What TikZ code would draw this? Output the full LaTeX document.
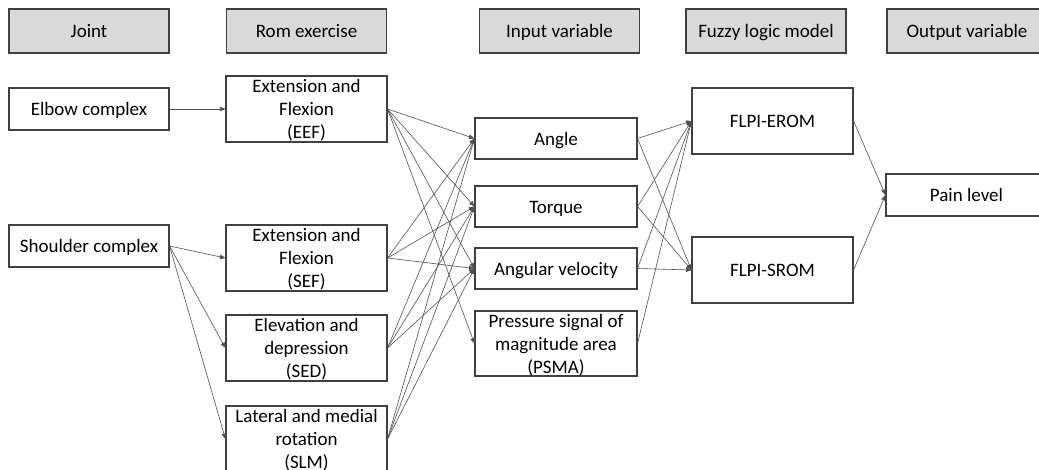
\documentclass[tikz,border=0pt]{standalone}
\usepackage{fontspec}
\setmainfont{Carlito}
\usetikzlibrary{arrows.meta}
\definecolor{boxline}{HTML}{404040}
\definecolor{headfill}{HTML}{D9D9D9}
\definecolor{linkgray}{HTML}{505050}
\begin{document}
\begin{tikzpicture}[x=1pt,y=-1pt,
  box/.style={draw=boxline, line width=1.1pt, fill=white, inner sep=0pt,
    align=center, text=black, text depth=0pt, font=\fontsize{19}{23}\selectfont},
  oneline/.style={box, text height=14pt},
  multi/.style={box, text depth=-2.5pt},
  head/.style={oneline, fill=headfill, minimum width=160pt, minimum height=44pt},
  small/.style={oneline, minimum width=160pt, minimum height=42pt},
  tall/.style={multi, minimum width=161pt, minimum height=66pt},
  model/.style={oneline, minimum width=161pt, minimum height=66pt},
  inbox/.style={oneline, minimum width=162pt, minimum height=41pt},
  link/.style={draw=linkgray, line width=0.6pt, -{Triangle[length=5.5pt,width=4.5pt]}}
]
\clip (0,0) rectangle (1039,470);
\fill[white] (0,0) rectangle (1039,470);

% column headers
\node[head] (hjoint)  at (89,31)    {Joint};
\node[head] (hrom)    at (306.5,31) {Rom exercise};
\node[head] (hinput)  at (559.5,31) {Input variable};
\node[head] (hfuzzy)  at (766,31)   {Fuzzy logic model};
\node[head] (houtput) at (967,31)   {Output variable};

% joints
\node[small] (elbow)    at (89,109) {Elbow complex};
\node[small] (shoulder) at (89,246) {Shoulder complex};

% range-of-motion exercises
\node[tall] (eef) at (306.5,109) {Extension and\\Flexion\\(EEF)};
\node[tall] (sef) at (306.5,258) {Extension and\\Flexion\\(SEF)};
\node[tall] (sed) at (306.5,348) {Elevation and\\depression\\(SED)};
\node[tall] (slm) at (306.5,439) {Lateral and medial\\rotation\\(SLM)};

% input variables
\node[inbox] (angle)  at (556,138.5) {Angle};
\node[inbox] (torque) at (556,206.5) {Torque};
\node[inbox] (angvel) at (556,268.5) {Angular velocity};
\node[multi, minimum width=162pt, minimum height=65pt] (psma) at (556,343.5)
  {Pressure signal of\\magnitude area\\(PSMA)};

% fuzzy models
\node[model] (erom) at (772.5,121) {FLPI-EROM};
\node[model] (srom) at (772.5,270) {FLPI-SROM};

% output
\node[small, minimum width=161pt] (pain) at (966.5,195) {Pain level};

% joint -> exercise
\draw[link] (elbow.east) -- (eef.west);
\foreach \t in {sef,sed,slm}
  \draw[link] (shoulder.east) -- (\t.west);

% exercise -> input variable
\foreach \t in {angle,torque,angvel,psma}
  \draw[link] (eef.east) -- (\t.west);
\foreach \s in {sef,sed,slm}
  \foreach \t in {angle,torque,angvel}
    \draw[link] (\s.east) -- (\t.west);

% input variable -> fuzzy model
\foreach \s in {angle,torque,angvel}
  \foreach \t in {erom,srom}
    \draw[link] (\s.east) -- (\t.west);
\draw[link] (psma.east) -- (erom.west);

% fuzzy model -> output
\draw[link] (erom.east) -- (pain.west);
\draw[link] (srom.east) -- (pain.west);
\end{tikzpicture}
\end{document}
